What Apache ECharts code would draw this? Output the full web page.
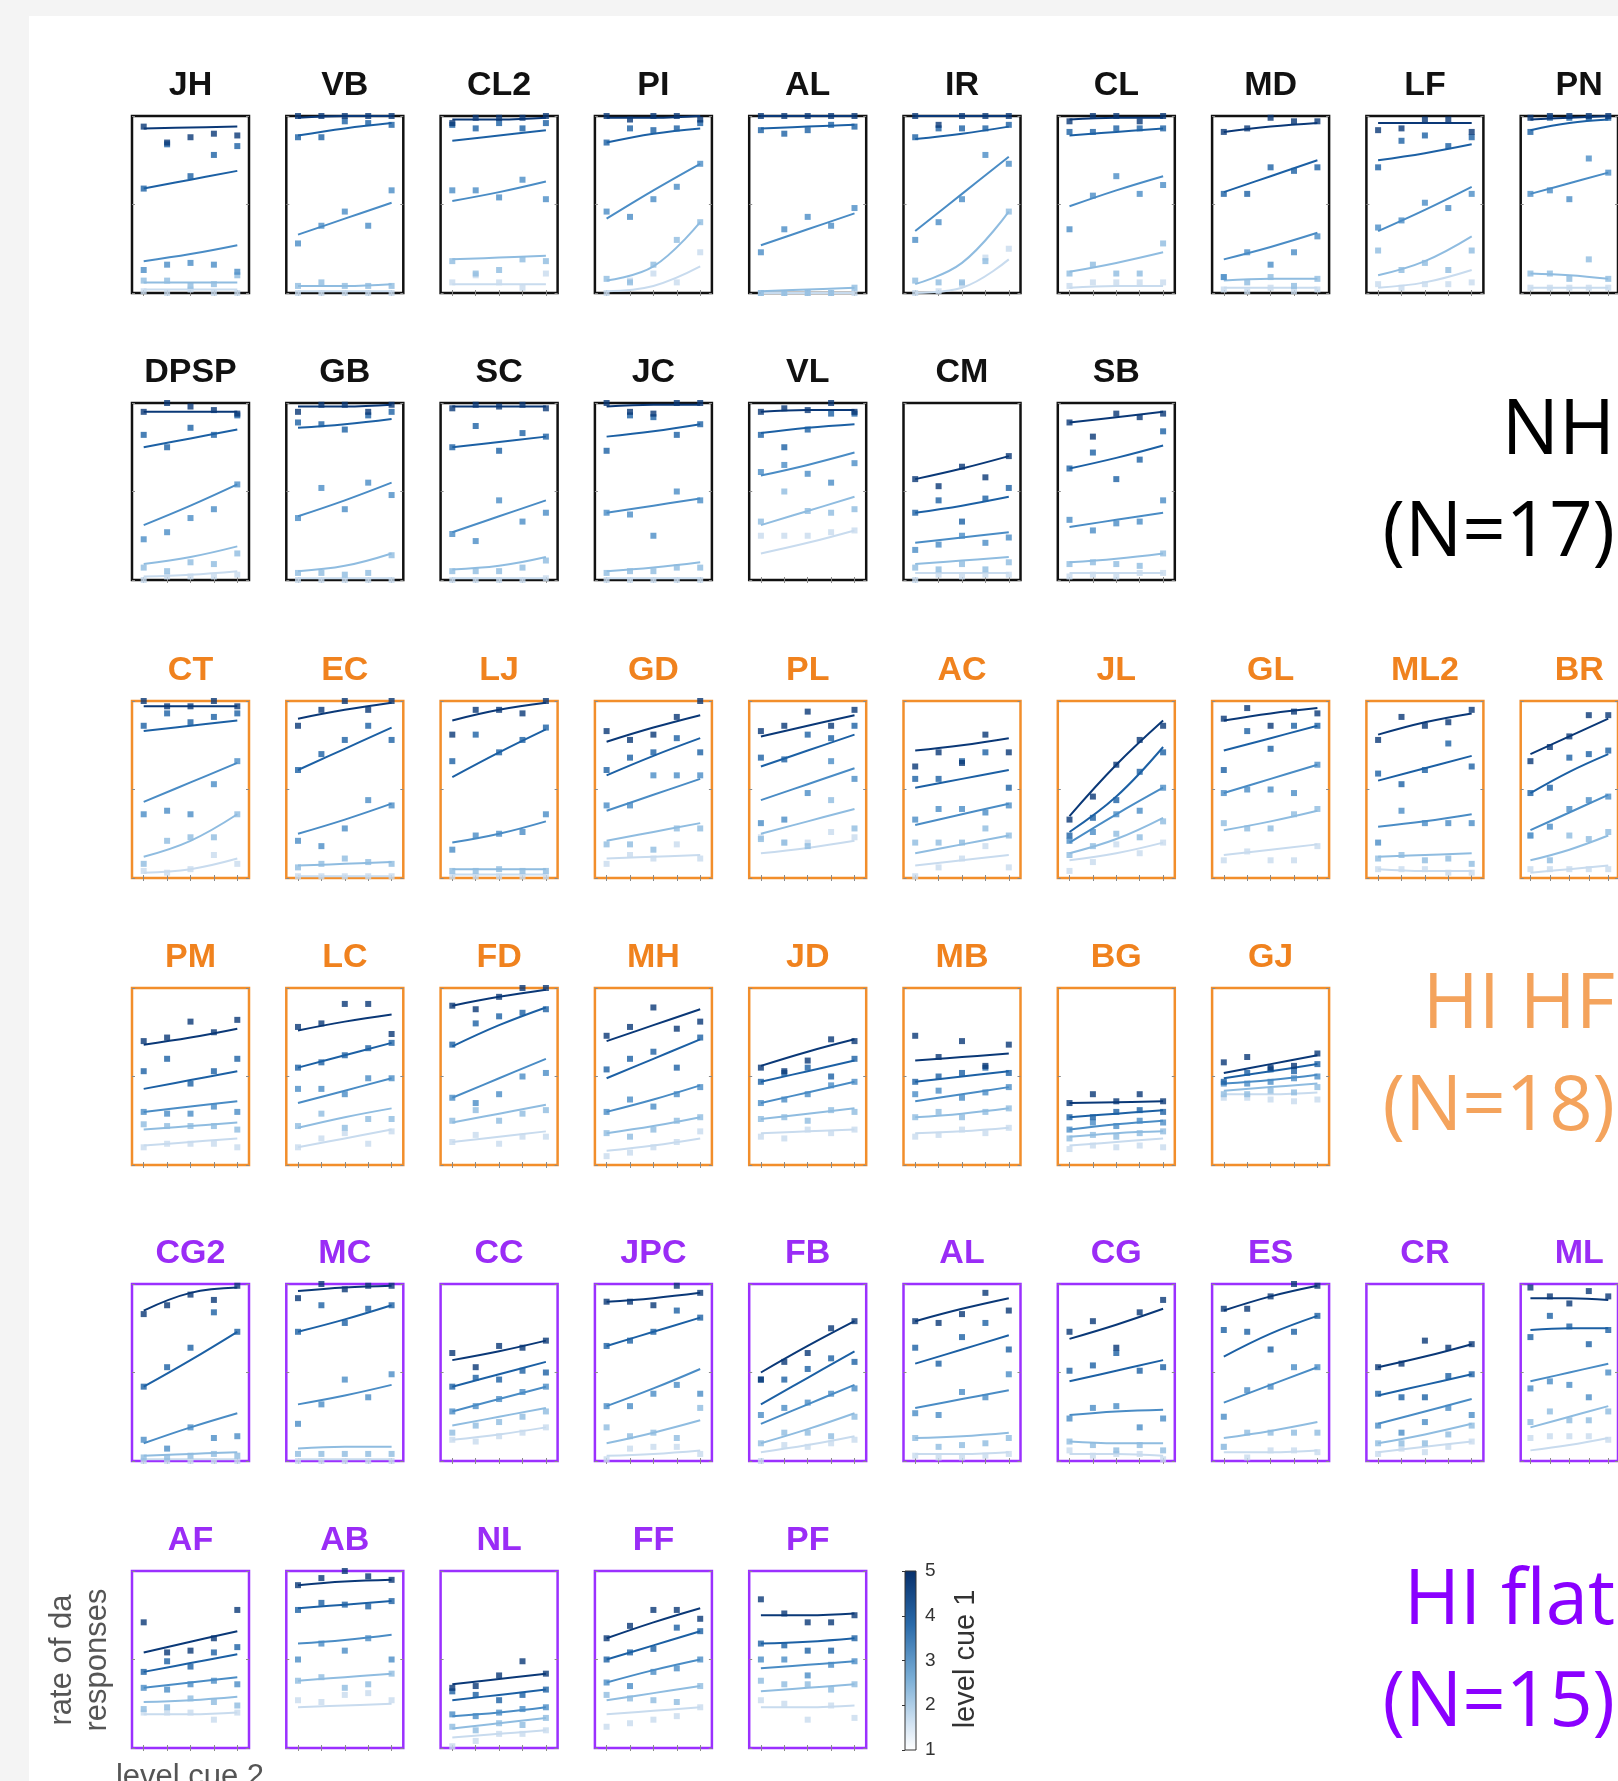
<!DOCTYPE html>
<html>
<head>
<meta charset="utf-8">
<script src="https://cdn.jsdelivr.net/npm/echarts@6/dist/echarts.min.js"></script>
<style>
  html, body { margin: 0; padding: 0; background: #f4f4f4; }
  #main { width: 1618px; height: 1781px; }
</style>
</head>
<body>
<div id="main"></div>
<script>
// level cue 2 on x (1..5); each subject: fitted curve at x = 1, 3, 5 and raw rates at x = 1..5
// order inside each array: level cue 1 = 1 (lightest) ... 5 (darkest)
const levelsCue2 = ['1', '2', '3', '4', '5']
const fitX = [0, 2, 4]

// NH row 1
const JH_fit = [[.02,.02,.02],[.06,.06,.06],[.18,.22,.27],[.59,.64,.69],[.93,.935,.94]]
const JH_pts = [[.01,0,.02,0,0],[.07,.07,.04,.05,.10],[.13,.16,.17,.16,.12],[.59,.84,.66,.78,.83],[.94,.85,.88,.90,.89]]
const VB_fit = [[.01,.01,.01],[.04,.04,.05],[.33,.42,.51],[.89,.93,.96],[.99,1,1]]
const VB_pts = [[0,0,0,0,0],[.04,.06,.04,.04,.04],[.28,.38,.46,.38,.58],[.88,.88,.97,.96,.95],[1,1,1,1,1]]
const CL2_fit = [[.05,.05,.05],[.19,.2,.21],[.52,.57,.63],[.86,.89,.92],[.98,.98,.99]]
const CL2_pts = [[.06,.1,.06,.03,.11],[.18,.11,.13,.19,.18],[.58,.58,.54,.64,.53],[.95,.93,.96,.93,.96],[.96,.99,.99,.99,1]]
const PI_fit = [[.01,.04,.15],[.07,.15,.40],[.42,.58,.73],[.85,.9,.93],[.99,.99,1]]
const PI_pts = [[0,.07,.11,.06,.23],[.08,.06,.16,.30,.40],[.46,.43,.53,.6,.73],[.85,.93,.92,.93,.96],[1,.98,1,1,.98]]
const AL_fit = [[0,0,0],[.01,.02,.03],[.27,.36,.45],[.93,.94,.95],[1,1,1]]
const AL_pts = [[0,0,0,0,0],[0,0,0,0,.03],[.23,.36,.43,.38,.48],[.92,.90,.92,.95,.94],[1,1,1,1,1]]
const IR_fit = [[0,.03,.19],[.05,.17,.46],[.35,.56,.77],[.87,.9,.94],[1,1,1]]
const IR_pts = [[0,.01,.05,.2,.25],[.07,.06,.06,.18,.46],[.3,.4,.53,.78,.73],[.88,.93,.93,.93,.95],[1,.95,1,1,1]]
const CL_fit = [[.03,.04,.04],[.12,.17,.23],[.49,.58,.66],[.89,.91,.93],[.98,.99,.99]]
const CL_pts = [[.04,.06,.06,.06,.06],[.11,.16,.11,.11,.28],[.36,.55,.66,.56,.61],[.91,.91,.93,.93,.93],[.97,1,1,.97,1]]
const MD_fit = [[.03,.03,.03],[.07,.08,.08],[.19,.26,.34],[.57,.66,.75],[.91,.94,.96]]
const MD_pts = [[.02,.01,.03,.01,.02],[.09,.06,.09,.04,.08],[.09,.23,.16,.23,.32],[.56,.56,.71,.69,.71],[.91,.93,.99,.97,.97]]
const LF_fit = [[.03,.06,.13],[.1,.18,.32],[.35,.47,.6],[.75,.79,.84],[.96,.96,.96]]
const LF_pts = [[.05,.03,.05,.05,.06],[.24,.13,.17,.13,.24],[.37,.41,.51,.48,.56],[.71,.86,.89,.83,.88],[.92,.93,.98,.98,.91]]
const PN_fit = [[.03,.03,.03],[.11,.1,.08],[.56,.62,.68],[.92,.96,.98],[.98,.99,1]]
const PN_pts = [[.03,.03,.03,.03,.03],[.11,.11,.08,.19,.08],[.56,.58,.53,.76,.68],[.91,.99,.99,.99,.99],[.99,1,1,1,1]]
// NH row 2
const DPSP_fit = [[.02,.03,.05],[.09,.13,.19],[.31,.42,.54],[.75,.8,.85],[.95,.95,.95]]
const DPSP_pts = [[0,.02,.02,.02,.03],[.07,.05,.1,.09,.15],[.23,.27,.35,.4,.54],[.82,.75,.86,.82,.93],[.95,1,.98,.96,.94]]
const GB_fit = [[.01,.01,.01],[.05,.08,.15],[.36,.45,.55],[.86,.88,.91],[.98,.98,.99]]
const GB_pts = [[0,0,0,0,0],[.04,.04,.03,.04,.14],[.35,.52,.4,.55,.48],[.89,.88,.85,.93,.95],[.95,.99,.99,.95,.99]]
const SC_fit = [[.01,.01,.01],[.06,.08,.13],[.27,.36,.45],[.75,.78,.81],[.98,.98,.98]]
const SC_pts = [[0,0,0,0,.01],[.05,.05,.05,.07,.11],[.26,.22,.45,.33,.38],[.75,.87,.73,.83,.81],[.97,.99,.98,.99,.97]]
const JC_fit = [[.01,.01,.01],[.05,.07,.1],[.38,.42,.46],[.81,.84,.88],[.98,.99,.99]]
const JC_pts = [[0,0,0,0,0],[.04,.05,.05,.07,.07],[.38,.37,.25,.5,.45],[.73,.93,.92,.82,.88],[1,.95,.94,1,1]]
const VL_fit = [[.15,.21,.28],[.31,.39,.47],[.59,.65,.72],[.83,.86,.88],[.95,.96,.96]]
const VL_pts = [[.25,.25,.25,.27,.28],[.33,.5,.39,.38,.4],[.61,.65,.6,.55,.66],[.82,.75,.85,.94,.94],[.95,.97,.96,1,.95]]
const CM_fit = [[.04,.04,.04],[.09,.11,.13],[.21,.24,.27],[.38,.42,.47],[.57,.63,.7]]
const CM_pts = [[0,.03,.02,.03,.03],[.07,.06,.09,.06,.1],[.17,.2,.25,.21,.24],[.38,.45,.33,.46,.52],[.57,.53,.64,.58,.7]]
const SB_fit = [[.04,.04,.04],[.1,.12,.15],[.3,.34,.38],[.63,.69,.76],[.89,.92,.95]]
const SB_pts = [[.02,.03,.02,.04,.04],[.09,.1,.09,.08,.15],[.34,.28,.32,.33,.45],[.63,.72,.57,.68,.84],[.89,.81,.94,.92,.94]]
// HI HF row 1
const CT_fit = [[.03,.05,.11],[.12,.21,.36],[.43,.54,.65],[.83,.86,.89],[.97,.97,.97]]
const CT_pts = [[.04,.03,.05,.13,.08],[.08,.21,.23,.23,.36],[.36,.38,.36,.53,.66],[.86,.93,.88,.91,.93],[1,.97,.97,1,.97]]
const EC_fit = [[.01,.01,.01],[.07,.08,.09],[.25,.33,.42],[.61,.73,.85],[.9,.95,.99]]
const EC_pts = [[.01,.01,.01,.01,.01],[.06,.08,.11,.09,.08],[.21,.18,.28,.44,.41],[.61,.7,.78,.86,.78],[.86,.95,1,.95,1]]
const LJ_fit = [[.02,.02,.02],[.05,.05,.05],[.2,.25,.32],[.57,.71,.84],[.89,.95,.99]]
const LJ_pts = [[.01,.01,.01,.01,.01],[.04,.04,.05,.04,.04],[.16,.24,.25,.26,.36],[.66,.81,.71,.78,.85],[.81,.95,.95,.93,1]]
const GD_fit = [[.11,.12,.13],[.21,.26,.31],[.38,.47,.56],[.58,.69,.79],[.77,.85,.92]]
const GD_pts = [[.08,.13,.11,.19,.11],[.19,.19,.16,.28,.28],[.41,.41,.58,.58,.58],[.61,.68,.71,.79,.71],[.83,.78,.81,.91,1]]
const PL_fit = [[.14,.17,.21],[.25,.32,.39],[.44,.53,.62],[.63,.72,.81],[.8,.86,.92]]
const PL_pts = [[.23,.2,.2,.26,.23],[.22,.2,.18,.44,.28],[.31,.33,.48,.66,.56],[.68,.67,.81,.79,.86],[.83,.86,.94,.86,.95]]
const AC_fit = [[.07,.1,.13],[.14,.19,.24],[.3,.36,.42],[.51,.56,.61],[.72,.75,.79]]
const AC_pts = [[.01,.06,.11,.18,.06],[.2,.2,.2,.28,.24],[.33,.39,.39,.37,.41],[.56,.56,.66,.71,.51],[.63,.71,.65,.81,.71]]
const JL_fit = [[.1,.14,.2],[.14,.22,.34],[.2,.36,.51],[.26,.46,.74],[.35,.64,.89]]
const JL_pts = [[.04,.09,.19,.14,.2],[.13,.18,.25,.23,.32],[.21,.26,.36,.38,.51],[.24,.34,.44,.6,.71],[.33,.46,.64,.78,.86]]
const GL_fit = [[.13,.16,.19],[.27,.32,.38],[.48,.56,.64],[.72,.79,.86],[.89,.93,.96]]
const GL_pts = [[.1,.15,.1,.1,.18],[.31,.28,.28,.36,.39],[.48,.5,.5,.48,.64],[.61,.83,.73,.86,.86],[.9,.96,.86,.94,.93]]
const ML2_fit = [[.05,.04,.04],[.12,.13,.14],[.29,.32,.36],[.55,.62,.69],[.81,.88,.93]]
const ML2_pts = [[.05,.05,.05,.03,.03],[.11,.13,.1,.11,.08],[.2,.38,.31,.31,.31],[.59,.53,.61,.76,.63],[.78,.91,.86,.88,.95]]
const BR_fit = [[.03,.05,.07],[.1,.16,.24],[.27,.37,.47],[.48,.6,.7],[.7,.8,.9]]
const BR_pts = [[.05,.05,.05,.05,.05],[.24,.1,.24,.22,.26],[.24,.29,.39,.44,.46],[.48,.51,.68,.7,.72],[.66,.74,.8,.92,.92]]
// HI HF row 2
const PM_fit = [[.11,.13,.15],[.2,.22,.24],[.3,.33,.36],[.43,.48,.53],[.68,.72,.77]]
const PM_pts = [[.1,.12,.12,.12,.1],[.23,.22,.22,.22,.2],[.3,.29,.29,.33,.3],[.53,.6,.46,.53,.6],[.7,.72,.81,.75,.82]]
const LC_fit = [[.1,.15,.2],[.21,.27,.32],[.35,.42,.49],[.55,.62,.69],[.76,.81,.85]]
const LC_pts = [[.1,.15,.18,.12,.19],[.22,.29,.21,.26,.26],[.43,.43,.4,.49,.49],[.55,.58,.62,.66,.69],[.78,.8,.91,.91,.74]]
const FD_fit = [[.13,.16,.19],[.24,.29,.34],[.38,.49,.6],[.67,.79,.89],[.9,.95,.99]]
const FD_pts = [[.13,.17,.12,.16,.16],[.25,.31,.25,.29,.31],[.38,.35,.4,.5,.52],[.68,.8,.84,.86,.88],[.9,.88,.95,1,1]]
const MH_fit = [[.08,.11,.15],[.18,.22,.27],[.3,.37,.45],[.49,.6,.71],[.7,.79,.88]]
const MH_pts = [[.05,.07,.1,.13,.19],[.18,.16,.2,.25,.27],[.3,.37,.33,.4,.44],[.54,.6,.64,.55,.72],[.73,.78,.89,.77,.81]]
const JD_fit = [[.18,.19,.2],[.26,.29,.32],[.35,.41,.47],[.47,.53,.59],[.56,.64,.71]]
const JD_pts = [[.16,.15,.2,.18,.2],[.26,.27,.25,.31,.3],[.35,.37,.4,.45,.47],[.47,.52,.55,.5,.6],[.55,.53,.59,.71,.7]]
const MB_fit = [[.18,.19,.21],[.27,.29,.32],[.36,.4,.44],[.47,.5,.53],[.59,.61,.63]]
const MB_pts = [[.16,.17,.2,.18,.21],[.27,.3,.27,.3,.32],[.4,.42,.38,.41,.44],[.47,.5,.52,.55,.52],[.73,.61,.7,.56,.68]]
const BG_fit = [[.11,.13,.15],[.16,.18,.19],[.2,.23,.25],[.27,.29,.31],[.35,.355,.36]]
const BG_pts = [[.09,.11,.1,.11,.1],[.15,.17,.16,.18,.19],[.2,.24,.22,.25,.24],[.27,.27,.3,.31,.3],[.35,.4,.36,.4,.36]]
const GJ_fit = [[.4,.4,.41],[.42,.44,.46],[.46,.48,.51],[.49,.53,.57],[.52,.57,.62]]
const GJ_pts = [[.38,.38,.37,.36,.37],[.4,.4,.42,.41,.44],[.46,.46,.47,.49,.5],[.47,.52,.54,.53,.57],[.58,.61,.55,.56,.63]]
// HI flat row 1
const CG2_fit = [[.01,.01,.01],[.03,.04,.05],[.1,.19,.27],[.42,.57,.73],[.85,.95,.98]]
const CG2_pts = [[0,0,0,0,0],[.02,.02,.03,.04,.03],[.12,.07,.19,.13,.14],[.42,.53,.64,.84,.73],[.83,.88,.94,.91,.99]]
const MC_fit = [[.01,.01,.01],[.07,.08,.08],[.32,.37,.43],[.73,.8,.88],[.96,.98,.99]]
const MC_pts = [[0,0,0,0,0],[.04,.04,.04,.04,.04],[.21,.32,.46,.36,.49],[.73,.88,.78,.86,.88],[.92,1,.97,.99,.99]]
const CC_fit = [[.12,.15,.19],[.2,.25,.3],[.28,.35,.42],[.42,.49,.56],[.57,.62,.68]]
const CC_pts = [[.12,.11,.14,.16,.19],[.16,.2,.22,.25,.28],[.28,.31,.35,.39,.42],[.42,.47,.46,.51,.5],[.61,.53,.65,.64,.68]]
const JPC_fit = [[.03,.04,.06],[.1,.16,.23],[.31,.41,.52],[.65,.73,.81],[.9,.92,.95]]
const JPC_pts = [[.01,.07,.08,.08,.04],[.19,.14,.16,.13,.3],[.31,.31,.38,.43,.38],[.65,.68,.73,.85,.81],[.9,.9,.88,.99,.95]]
const FB_fit = [[.05,.09,.14],[.1,.18,.27],[.21,.32,.43],[.32,.47,.62],[.5,.65,.79]]
const FB_pts = [[0,.09,.08,.1,.12],[.1,.16,.16,.14,.25],[.26,.3,.33,.38,.41],[.46,.46,.52,.58,.56],[.46,.56,.61,.75,.79]]
const AL2_fit = [[.04,.04,.05],[.13,.14,.16],[.3,.35,.4],[.55,.63,.71],[.79,.86,.92]]
const AL2_pts = [[.03,.02,.02,.03,.04],[.13,.08,.09,.1,.13],[.27,.26,.39,.36,.49],[.64,.55,.7,.78,.63],[.79,.78,.83,.95,.85]]
const CG_fit = [[.04,.04,.03],[.11,.1,.1],[.26,.28,.29],[.45,.51,.57],[.69,.77,.86]]
const CG_pts = [[.06,.03,.04,.04,.01],[.11,.09,.06,.09,.06],[.24,.3,.31,.19,.24],[.51,.54,.61,.51,.53],[.73,.79,.64,.84,.91]]
const ES_fit = [[.05,.05,.06],[.13,.17,.22],[.33,.43,.53],[.59,.72,.82],[.85,.93,.99]]
const ES_pts = [[.08,.02,.06,.06,.05],[.08,.16,.16,.16,.16],[.25,.4,.42,.53,.53],[.74,.73,.63,.73,.82],[.86,.86,.93,1,.99]]
const CR_fit = [[.05,.08,.11],[.1,.15,.21],[.21,.28,.35],[.37,.43,.49],[.53,.59,.66]]
const CR_pts = [[.04,.07,.05,.08,.11],[.1,.1,.1,.15,.2],[.2,.16,.22,.3,.26],[.38,.36,.36,.48,.49],[.53,.55,.68,.64,.66]]
const ML_fit = [[.06,.09,.13],[.19,.25,.31],[.45,.5,.55],[.74,.75,.75],[.92,.92,.91]]
const ML_pts = [[.13,.14,.14,.14,.12],[.22,.28,.23,.23,.28],[.41,.45,.43,.36,.5],[.7,.82,.76,.66,.74],[.98,.93,.89,.96,.93]]
// HI flat row 2
const AF_fit = [[.19,.19,.2],[.26,.27,.29],[.34,.37,.4],[.43,.48,.53],[.54,.6,.66]]
const AF_pts = [[.2,.2,.2,.16,.2],[.22,.23,.28,.26,.24],[.34,.33,.36,.38,.36],[.43,.49,.46,.54,.57],[.71,.54,.55,.62,.78]]
const AB_fit = [[.23,.24,.25],[.38,.4,.42],[.59,.61,.64],[.79,.81,.83],[.92,.94,.95]]
const AB_pts = [[.27,.26,.3,.31,.27],[.38,.4,.34,.36,.42],[.5,.59,.55,.62,.5],[.78,.82,.81,.8,.83],[.92,.96,1,.97,.95]]
const NL_fit = [[.06,.08,.1],[.11,.14,.17],[.18,.2,.23],[.27,.3,.33],[.36,.39,.42]]
const NL_pts = [[.01,.04,.08,.08,.1],[.12,.1,.14,.13,.17],[.19,.18,.2,.22,.23],[.32,.3,.27,.3,.33],[.34,.35,.41,.49,.42]]
const FF_fit = [[.19,.21,.23],[.27,.31,.35],[.37,.44,.5],[.5,.58,.66],[.62,.71,.79]]
const FF_pts = [[.12,.14,.16,.18,.23],[.3,.28,.27,.26,.35],[.37,.35,.43,.45,.5],[.5,.54,.56,.68,.66],[.62,.69,.78,.78,.73]]
const PF_fit = [[.23,.23,.24],[.32,.34,.36],[.45,.47,.49],[.59,.6,.62],[.75,.75,.76]]
const PF_pts = [[.27,.25,.16,.24,.17],[.38,.36,.36,.33,.36],[.5,.5,.41,.47,.49],[.59,.58,.55,.55,.62],[.84,.76,.71,.71,.75]]

const rows = [
  [['JH', JH_fit, JH_pts], ['VB', VB_fit, VB_pts], ['CL2', CL2_fit, CL2_pts], ['PI', PI_fit, PI_pts], ['AL', AL_fit, AL_pts],
   ['IR', IR_fit, IR_pts], ['CL', CL_fit, CL_pts], ['MD', MD_fit, MD_pts], ['LF', LF_fit, LF_pts], ['PN', PN_fit, PN_pts]],
  [['DPSP', DPSP_fit, DPSP_pts], ['GB', GB_fit, GB_pts], ['SC', SC_fit, SC_pts], ['JC', JC_fit, JC_pts], ['VL', VL_fit, VL_pts],
   ['CM', CM_fit, CM_pts], ['SB', SB_fit, SB_pts]],
  [['CT', CT_fit, CT_pts], ['EC', EC_fit, EC_pts], ['LJ', LJ_fit, LJ_pts], ['GD', GD_fit, GD_pts], ['PL', PL_fit, PL_pts],
   ['AC', AC_fit, AC_pts], ['JL', JL_fit, JL_pts], ['GL', GL_fit, GL_pts], ['ML2', ML2_fit, ML2_pts], ['BR', BR_fit, BR_pts]],
  [['PM', PM_fit, PM_pts], ['LC', LC_fit, LC_pts], ['FD', FD_fit, FD_pts], ['MH', MH_fit, MH_pts], ['JD', JD_fit, JD_pts],
   ['MB', MB_fit, MB_pts], ['BG', BG_fit, BG_pts], ['GJ', GJ_fit, GJ_pts]],
  [['CG2', CG2_fit, CG2_pts], ['MC', MC_fit, MC_pts], ['CC', CC_fit, CC_pts], ['JPC', JPC_fit, JPC_pts], ['FB', FB_fit, FB_pts],
   ['AL', AL2_fit, AL2_pts], ['CG', CG_fit, CG_pts], ['ES', ES_fit, ES_pts], ['CR', CR_fit, CR_pts], ['ML', ML_fit, ML_pts]],
  [['AF', AF_fit, AF_pts], ['AB', AB_fit, AB_pts], ['NL', NL_fit, NL_pts], ['FF', FF_fit, FF_pts], ['PF', PF_fit, PF_pts]]
]
const rowGroup = [0, 0, 1, 1, 2, 2]
const groupNames = ['NH', 'HI HF', 'HI flat']
const groupN = ['(N=17)', '(N=18)', '(N=15)']
const colorbarTicks = [1, 2, 3, 4, 5]

// styles
const levelColors = ['#c8dbee', '#8fbce0', '#4a8cc5', '#1c60a4', '#0a3877']
const groupTitleColor = ['#111111', '#f0821e', '#9a2cf6']
const groupBoxColor = ['#111111', '#f28e2b', '#9b30ff']
const groupLabelColor = ['#000000', '#f4a35c', '#8a00ff']
const rowTops = [116, 403, 701, 988, 1284, 1571]
const colLeft0 = 132, colStep = 154.3, boxW = 117, boxH = 177

const chart = echarts.init(document.getElementById('main'))

const grid = [], xAxis = [], yAxis = [], series = [], graphics = []

graphics.push({
  type: 'rect', z: -10, silent: true,
  shape: { x: 29, y: 16, width: 1618 - 29, height: 1781 - 16 },
  style: { fill: '#ffffff' }
})

const tickStyle = { show: true, inside: true, length: 3, lineStyle: { color: '#8a8a8a', width: 1 } }

let gi = 0
rows.forEach((row, r) => {
  const g = rowGroup[r]
  row.forEach((panel, c) => {
    const [name, fit, pts] = panel
    const left = colLeft0 + c * colStep
    const top = rowTops[r]
    grid.push({
      left: left, top: top, width: boxW, height: boxH,
      show: true, backgroundColor: '#ffffff',
      borderColor: groupBoxColor[g], borderWidth: 2.5
    })
    const xa = {
      type: 'category', data: levelsCue2, boundaryGap: true, gridIndex: gi,
      axisLine: { show: false }, axisLabel: { show: false }, splitLine: { show: false },
      axisTick: Object.assign({ alignWithLabel: true }, tickStyle)
    }
    xAxis.push(Object.assign({ position: 'bottom' }, xa))
    xAxis.push(Object.assign({ position: 'top' }, xa))
    const ya = {
      type: 'value', min: 0, max: 1, interval: 0.5, gridIndex: gi,
      axisLine: { show: false }, axisLabel: { show: false }, splitLine: { show: false },
      axisTick: tickStyle
    }
    yAxis.push(Object.assign({ position: 'left' }, ya))
    yAxis.push(Object.assign({ position: 'right' }, ya))

    for (let lv = 0; lv < 5; lv++) {
      series.push({
        type: 'line', xAxisIndex: gi * 2, yAxisIndex: gi * 2,
        data: fit[lv].map((v, k) => [fitX[k], v]),
        smooth: 0.4, showSymbol: false, silent: true, z: 3 + lv,
        lineStyle: { color: levelColors[lv], width: 2 }
      })
      series.push({
        type: 'scatter', xAxisIndex: gi * 2, yAxisIndex: gi * 2,
        data: pts[lv].map((v, k) => [k, v]),
        symbol: 'rect', symbolSize: 6, silent: true, z: 3 + lv,
        itemStyle: { color: levelColors[lv] }
      })
    }

    graphics.push({
      type: 'text', x: left + boxW / 2, y: top - 30, silent: true,
      style: {
        text: name, fill: groupTitleColor[g], align: 'center', verticalAlign: 'middle',
        font: 'bold 34px "Liberation Sans", Arial, sans-serif'
      }
    })
    gi++
  })
})

// colour bar for level cue 1
grid.push({
  left: 905, top: 1571, width: 11, height: 179, show: true,
  borderColor: '#333333', borderWidth: 1,
  backgroundColor: new echarts.graphic.LinearGradient(0, 0, 0, 1, [
    { offset: 0, color: '#08306b' },
    { offset: 0.3, color: '#2a6aa9' },
    { offset: 0.6, color: '#7aaed6' },
    { offset: 0.85, color: '#d2e3f2' },
    { offset: 1, color: '#ffffff' }
  ])
})
xAxis.push({ type: 'value', gridIndex: gi, show: false, min: 0, max: 1 })
yAxis.push({
  type: 'value', gridIndex: gi, min: colorbarTicks[0], max: colorbarTicks[colorbarTicks.length - 1], interval: 1,
  position: 'right', axisLine: { show: false }, splitLine: { show: false },
  axisTick: { show: true, inside: true, length: 3, lineStyle: { color: '#333' } },
  axisLabel: { color: '#333333', fontSize: 19, margin: 9, fontFamily: 'Liberation Sans' }
})

// group labels on the right
const groupLabelY = [[432, 534], [1006, 1108], [1602, 1704]]
groupNames.forEach((gn, k) => {
  graphics.push({
    type: 'text', x: 1615, y: groupLabelY[k][0], silent: true,
    style: { text: gn, fill: groupLabelColor[k], align: 'right', verticalAlign: 'middle', font: '76px "Open Sans", sans-serif' }
  })
  graphics.push({
    type: 'text', x: 1615, y: groupLabelY[k][1], silent: true,
    style: { text: groupN[k], fill: groupLabelColor[k], align: 'right', verticalAlign: 'middle', font: '76px "Open Sans", sans-serif' }
  })
})

// axis captions
graphics.push({
  type: 'text', x: 966, y: 1659, rotation: Math.PI / 2, silent: true,
  style: { text: 'level cue 1', fill: '#333333', align: 'center', verticalAlign: 'middle', font: '29px "Liberation Sans", Arial, sans-serif' }
})
graphics.push({
  type: 'text', x: 62, y: 1660, rotation: Math.PI / 2, silent: true,
  style: { text: 'rate of da', fill: '#555555', align: 'center', verticalAlign: 'middle', font: '31px "Liberation Sans", Arial, sans-serif' }
})
graphics.push({
  type: 'text', x: 97, y: 1660, rotation: Math.PI / 2, silent: true,
  style: { text: 'responses', fill: '#555555', align: 'center', verticalAlign: 'middle', font: '31px "Liberation Sans", Arial, sans-serif' }
})
graphics.push({
  type: 'text', x: 190, y: 1777, silent: true,
  style: { text: 'level cue 2', fill: '#555555', align: 'center', verticalAlign: 'middle', font: '31px "Liberation Sans", Arial, sans-serif' }
})

chart.setOption({
  backgroundColor: '#f4f4f4',
  animation: false,
  grid: grid,
  xAxis: xAxis,
  yAxis: yAxis,
  series: series,
  graphic: { elements: graphics }
})
</script>
</body>
</html>
